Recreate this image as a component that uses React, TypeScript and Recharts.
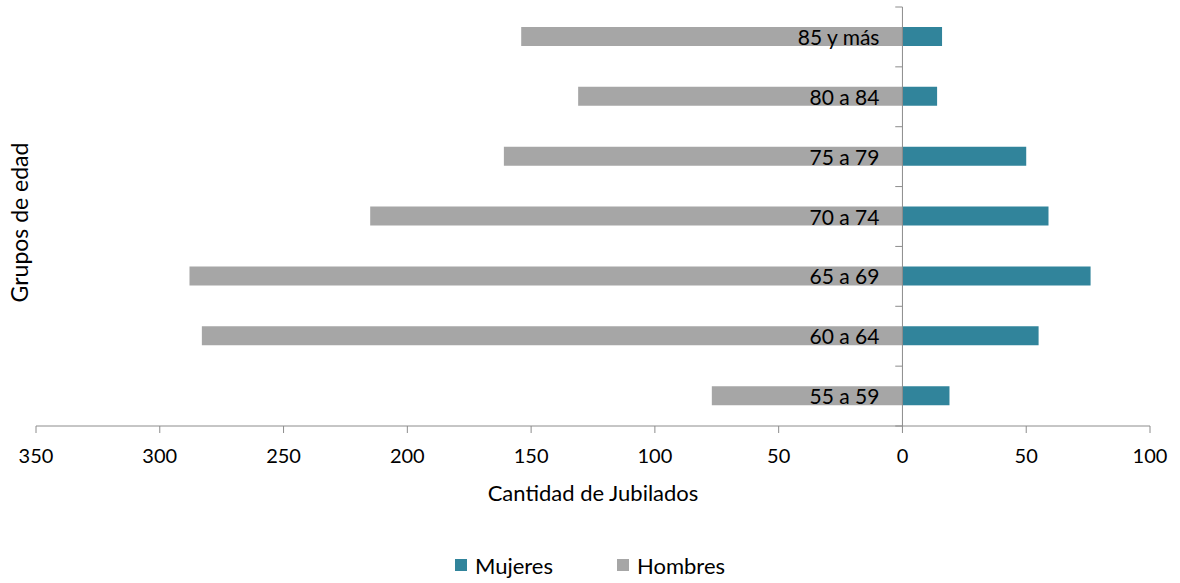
import React from 'react';
import {
  BarChart,
  Bar,
  XAxis,
  YAxis,
  ReferenceLine,
  LabelList,
  Legend,
} from 'recharts';

const ageGroups = ['85 y más', '80 a 84', '75 a 79', '70 a 74', '65 a 69', '60 a 64', '55 a 59'];
const hombres = [154, 131, 161, 215, 288, 283, 77];
const mujeres = [16, 14, 50, 59, 76, 55, 19];
const xTicks = [-350, -300, -250, -200, -150, -100, -50, 0, 50, 100];
const seriesNames = { mujeres: 'Mujeres', hombres: 'Hombres' };

const COLOR_M = '#31849B';
const COLOR_H = '#A6A6A6';
const AXIS = '#8C8C8C';
const FONT = 'Lato, "Open Sans", sans-serif';

const data = ageGroups.map((age, i) => ({
  age,
  hombres: -hombres[i],
  mujeres: mujeres[i],
}));

const CategoryLabel = (props: any) => {
  const { x, y, height, value } = props;
  return (
    <text
      x={x - 23}
      y={y + height / 2}
      textAnchor="end"
      dominantBaseline="central"
      fontFamily={FONT}
      fontSize={21}
      fill="#000"
    >
      {value}
    </text>
  );
};

const LegendContent = () => {
  const items = [
    { name: seriesNames.mujeres, color: COLOR_M },
    { name: seriesNames.hombres, color: COLOR_H },
  ];
  return (
    <div
      style={{
        display: 'flex',
        justifyContent: 'center',
        alignItems: 'center',
        height: 24,
        fontFamily: FONT,
        fontSize: 22,
        color: '#000',
      }}
    >
      {items.map((it, i) => (
        <div
          key={it.name}
          style={{ display: 'flex', alignItems: 'center', marginRight: i === 0 ? 64 : 0 }}
        >
          <span style={{ width: 12, height: 12, background: it.color, display: 'inline-block', marginRight: 8 }} />
          <span>{it.name}</span>
        </div>
      ))}
    </div>
  );
};

export default function App() {
  const lastAge = ageGroups[ageGroups.length - 1];
  return (
    <div style={{ position: 'absolute', left: 0, top: 0, width: 1180, height: 583, background: '#fff' }}>
      <BarChart
        width={1180}
        height={583}
        data={data}
        layout="vertical"
        stackOffset="sign"
        margin={{ top: 7, right: 30, left: 0, bottom: 103 }}
      >
        <XAxis
          type="number"
          domain={[-350, 100]}
          ticks={xTicks}
          tickFormatter={(v: number) => String(Math.abs(v))}
          height={30}
          axisLine={{ stroke: AXIS }}
          tickLine={{ stroke: AXIS }}
          tickSize={7}
          tickMargin={16}
          tick={{ fill: '#000', fontSize: 20, fontFamily: FONT }}
          interval={0}
          label={{
            value: 'Cantidad de Jubilados',
            position: 'bottom',
            offset: 29,
            style: { fill: '#000', fontSize: 22, fontFamily: FONT },
          }}
        />
        <YAxis
          type="category"
          dataKey="age"
          width={36}
          tick={false}
          axisLine={false}
          tickLine={false}
          label={(p: any) => {
            const vb = p.viewBox || {};
            const cx = 19;
            const cy = (vb.y ?? 0) + (vb.height ?? 0) / 2 + 6;
            return (
              <text
                x={cx}
                y={cy}
                transform={`rotate(-90, ${cx}, ${cy})`}
                textAnchor="middle"
                dominantBaseline="central"
                fontFamily={FONT}
                fontSize={23}
                fill="#000"
              >
                Grupos de edad
              </text>
            );
          }}
        />
        <Bar dataKey="hombres" name={seriesNames.hombres} stackId="s" fill={COLOR_H} barSize={19} isAnimationActive={false} />
        <Bar dataKey="mujeres" name={seriesNames.mujeres} stackId="s" fill={COLOR_M} barSize={19} isAnimationActive={false}>
          <LabelList dataKey="age" content={CategoryLabel} />
        </Bar>
        <ReferenceLine x={0} stroke={AXIS} ifOverflow="visible" />
        {ageGroups.map((age) => (
          <ReferenceLine
            key={age}
            position="start"
            segment={[{ x: -2.9, y: age }, { x: 0, y: age }]}
            stroke={AXIS}
            ifOverflow="visible"
          />
        ))}
        <ReferenceLine
          position="end"
          segment={[{ x: -2.9, y: lastAge }, { x: 0, y: lastAge }]}
          stroke={AXIS}
          ifOverflow="visible"
        />
        <Legend
          verticalAlign="bottom"
          content={<LegendContent />}
          wrapperStyle={{ left: 0, top: 553, width: 1180, height: 24 }}
        />
      </BarChart>
    </div>
  );
}
